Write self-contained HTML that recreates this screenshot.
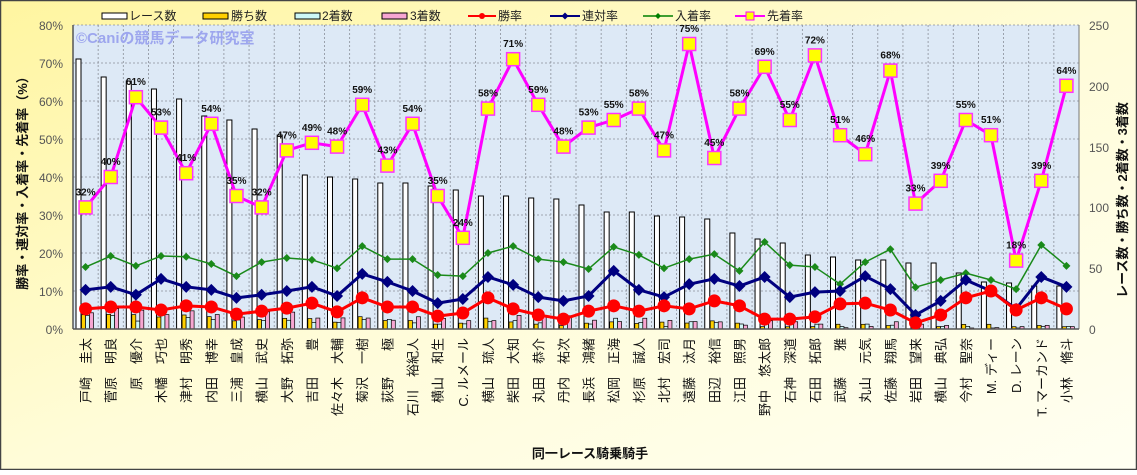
<!DOCTYPE html>
<html><head><meta charset="utf-8">
<style>
html,body{margin:0;padding:0;}
body{width:1137px;height:470px;overflow:hidden;font-family:"Liberation Sans","Noto Sans CJK JP",sans-serif;}
svg text{font-family:"Liberation Sans","Noto Sans CJK JP",sans-serif;}
</style></head>
<body>
<svg id="c" width="1137" height="470" viewBox="0 0 1137 470" xmlns="http://www.w3.org/2000/svg">
<defs>
<linearGradient id="bg" x1="0" y1="0" x2="1" y2="1">
<stop offset="0" stop-color="#fff5a0"/><stop offset="0.5" stop-color="#fffcd8"/><stop offset="1" stop-color="#fffff2"/>
</linearGradient>
</defs>
<rect x="0.5" y="0.5" width="1136" height="469" fill="url(#bg)" stroke="#444" stroke-width="1.5"/>
<rect x="73" y="25" width="1006" height="304" fill="#dde9f6"/>
<g id="grid"></g>
<g id="shapes"></g>
<line x1="73" y1="25" x2="73" y2="329" stroke="#555" stroke-width="1.5"/>
<line x1="1079" y1="25" x2="1079" y2="329" stroke="#777" stroke-width="1"/>
<line x1="73" y1="329" x2="1079" y2="329" stroke="#555" stroke-width="1.5"/>
<text x="76" y="43" font-size="15" font-weight="bold" fill="#9da6ee">©Caniの競馬データ研究室</text>

<g font-size="12" fill="#555" text-anchor="end">
<text x="63" y="30">80%</text><text x="63" y="68">70%</text><text x="63" y="106">60%</text><text x="63" y="144">50%</text><text x="63" y="182">40%</text><text x="63" y="220">30%</text><text x="63" y="258">20%</text><text x="63" y="296">10%</text><text x="63" y="334">0%</text>
</g>
<g font-size="12" fill="#555">
<text x="1089" y="30">250</text><text x="1089" y="91">200</text><text x="1089" y="152">150</text><text x="1089" y="212">100</text><text x="1089" y="273">50</text><text x="1089" y="334">0</text>
</g>
<text transform="translate(27,180) rotate(-90)" font-size="13" font-weight="bold" text-anchor="middle" fill="#111">勝率・連対率・入着率・先着率（%）</text>
<text transform="translate(1127,200) rotate(-90)" font-size="13" font-weight="bold" text-anchor="middle" fill="#111">レース数・勝ち数・2着数・3着数</text>
<text x="590" y="458" font-size="13" font-weight="bold" text-anchor="middle" fill="#111">同一レース騎乗騎手</text>

<g font-size="12" fill="#222">
<rect x="102" y="13" width="25" height="6" fill="#fff" stroke="#000"/><text x="129" y="20">レース数</text>
<rect x="203" y="13" width="25" height="6" fill="#ffd000" stroke="#000"/><text x="231" y="20">勝ち数</text>
<rect x="295" y="13" width="25" height="6" fill="#cdf7f7" stroke="#000"/><text x="322" y="20">2着数</text>
<rect x="382" y="13" width="25" height="6" fill="#f7a6d2" stroke="#000"/><text x="410" y="20">3着数</text>
<line x1="468" y1="16" x2="496" y2="16" stroke="#f00" stroke-width="2"/><circle cx="482" cy="16" r="3" fill="#f00"/><text x="498" y="20">勝率</text>
<line x1="550" y1="16" x2="580" y2="16" stroke="#000080" stroke-width="2"/><path d="M565 12.5L568.5 16L565 19.5L561.5 16Z" fill="#000080"/><text x="582" y="20">連対率</text>
<line x1="643" y1="16" x2="673" y2="16" stroke="#008000" stroke-width="1.5"/><path d="M658 13L661 16L658 19L655 16Z" fill="#008000"/><text x="675" y="20">入着率</text>
<line x1="735" y1="16" x2="765" y2="16" stroke="#f0f" stroke-width="2"/><rect x="746" y="12" width="8" height="8" fill="#ff0" stroke="#f0f"/><text x="767" y="20">先着率</text>
</g>

<g id="top"></g>
<g font-size="10" font-weight="bold" fill="#111" text-anchor="middle">
<text x="85.6" y="195.4">32%</text><text x="110.7" y="165">40%</text><text x="135.9" y="85.2">61%</text><text x="161.0" y="115.6">53%</text><text x="186.2" y="161.2">41%</text><text x="211.3" y="111.8">54%</text><text x="236.5" y="184">35%</text><text x="261.6" y="195.4">32%</text><text x="286.8" y="138.4">47%</text><text x="311.9" y="130.8">49%</text>
<text x="337.1" y="134.6">48%</text><text x="362.2" y="92.8">59%</text><text x="387.4" y="153.6">43%</text><text x="412.5" y="111.8">54%</text><text x="437.7" y="184">35%</text><text x="462.8" y="225.8">24%</text><text x="488.0" y="96.6">58%</text><text x="513.1" y="47.2">71%</text><text x="538.3" y="92.8">59%</text><text x="563.4" y="134.6">48%</text>
<text x="588.6" y="115.6">53%</text><text x="613.7" y="108">55%</text><text x="638.9" y="96.6">58%</text><text x="664.0" y="138.4">47%</text><text x="689.2" y="32">75%</text><text x="714.3" y="146">45%</text><text x="739.5" y="96.6">58%</text><text x="764.6" y="54.8">69%</text><text x="789.8" y="108">55%</text><text x="814.9" y="43.4">72%</text>
<text x="840.1" y="123.2">51%</text><text x="865.2" y="142.2">46%</text><text x="890.4" y="58.6">68%</text><text x="915.5" y="191.6">33%</text><text x="940.7" y="168.8">39%</text><text x="965.8" y="108">55%</text><text x="991.0" y="123.2">51%</text><text x="1016.1" y="248.6">18%</text><text x="1041.3" y="168.8">39%</text><text x="1066.4" y="73.8">64%</text>
</g>

<g font-size="13" fill="#111" text-anchor="end">
<text transform="translate(90.6,338) rotate(-90)">戸崎　圭太</text>
<text transform="translate(115.7,338) rotate(-90)">菅原　明良</text>
<text transform="translate(140.9,338) rotate(-90)">　原　優介</text>
<text transform="translate(166.0,338) rotate(-90)">木幡　巧也</text>
<text transform="translate(191.2,338) rotate(-90)">津村　明秀</text>
<text transform="translate(216.3,338) rotate(-90)">内田　博幸</text>
<text transform="translate(241.5,338) rotate(-90)">三浦　皇成</text>
<text transform="translate(266.6,338) rotate(-90)">横山　武史</text>
<text transform="translate(291.8,338) rotate(-90)">大野　拓弥</text>
<text transform="translate(316.9,338) rotate(-90)">吉田　　豊</text>
<text transform="translate(342.1,338) rotate(-90)">佐々木　大輔</text>
<text transform="translate(367.2,338) rotate(-90)">菊沢　一樹</text>
<text transform="translate(392.4,338) rotate(-90)">荻野　　極</text>
<text transform="translate(417.5,338) rotate(-90)">石川　裕紀人</text>
<text transform="translate(442.7,338) rotate(-90)">横山　和生</text>
<text transform="translate(467.8,338) rotate(-90)">C. ルメール</text>
<text transform="translate(493.0,338) rotate(-90)">横山　琉人</text>
<text transform="translate(518.1,338) rotate(-90)">柴田　大知</text>
<text transform="translate(543.3,338) rotate(-90)">丸田　恭介</text>
<text transform="translate(568.4,338) rotate(-90)">丹内　祐次</text>
<text transform="translate(593.6,338) rotate(-90)">長浜　鴻緒</text>
<text transform="translate(618.7,338) rotate(-90)">松岡　正海</text>
<text transform="translate(643.9,338) rotate(-90)">杉原　誠人</text>
<text transform="translate(669.0,338) rotate(-90)">北村　宏司</text>
<text transform="translate(694.2,338) rotate(-90)">遠藤　汰月</text>
<text transform="translate(719.3,338) rotate(-90)">田辺　裕信</text>
<text transform="translate(744.5,338) rotate(-90)">江田　照男</text>
<text transform="translate(769.6,338) rotate(-90)">野中　悠太郎</text>
<text transform="translate(794.8,338) rotate(-90)">石神　深道</text>
<text transform="translate(819.9,338) rotate(-90)">石田　拓郎</text>
<text transform="translate(845.1,338) rotate(-90)">武藤　　雅</text>
<text transform="translate(870.2,338) rotate(-90)">丸山　元気</text>
<text transform="translate(895.4,338) rotate(-90)">佐藤　翔馬</text>
<text transform="translate(920.5,338) rotate(-90)">岩田　望来</text>
<text transform="translate(945.7,338) rotate(-90)">横山　典弘</text>
<text transform="translate(970.8,338) rotate(-90)">今村　聖奈</text>
<text transform="translate(996.0,338) rotate(-90)">M. ディー</text>
<text transform="translate(1021.1,338) rotate(-90)">D. レーン</text>
<text transform="translate(1046.3,338) rotate(-90)">T. マーカンド</text>
<text transform="translate(1071.4,338) rotate(-90)">小林　脩斗</text>
</g>
</svg>
<script>
(function(){
var NS="http://www.w3.org/2000/svg";
function el(p,t,a){var e=document.createElementNS(NS,t);for(var k in a)e.setAttribute(k,a[k]);p.appendChild(e);return e;}
var grid=document.getElementById('grid'),g=document.getElementById('shapes'),top=document.getElementById('top');
var X0=73,W=25.15,N=40;
for(var i=1;i<N;i++){var x=X0+W*i;el(grid,'line',{x1:x,y1:25,x2:x,y2:329,stroke:'#8a8f99','stroke-width':0.8,'stroke-dasharray':'2,2'});}
for(var j=0;j<8;j++){var y=25+38*j;el(grid,'line',{x1:73,y1:y,x2:1079,y2:y,stroke:'#8a8f99','stroke-width':0.8,'stroke-dasharray':'2,2'});}
var T=[59,77,81,89,99,116,120,129,135,175,177,179,183,183,186,190,196,196,198,199,205,212,212,216,217,219,233,239,243,255,257,260,260,263,263,273,282,283,286,286];
var win=[5.3,5.8,5.8,5,6.1,5.8,3.9,4.7,5.5,6.8,4.5,8.2,5.8,5.8,3.4,4.2,8.2,5.3,3.7,2.6,4.7,6.1,4.7,6.1,5.3,7.4,6.1,2.6,2.6,3.2,6.6,6.8,5,1.6,3.7,8.2,10,5,8.2,5.3];
var ren=[10.3,11.1,9,13.2,11.1,10.3,8.2,9,10,11.1,8.7,14.5,12.4,10,6.8,7.9,13.7,11.6,8.4,7.4,8.7,15.3,10.3,8.4,11.8,13.2,11.3,13.7,8.4,9.7,10,13.9,10.5,3.7,7.4,12.9,10,5.3,13.7,11.1];
var nyu=[16.3,19.2,16.6,19.2,19,17.1,13.9,17.6,18.7,18.2,16,21.8,18.4,18.4,14.2,13.9,20,21.8,18.4,17.6,15.8,21.6,19.5,16,18.4,19.7,15.3,22.9,16.8,16.3,11.8,17.6,21,11,12.9,14.7,12.9,10.5,22.1,16.6];
var sen=[32,40,61,53,41,54,35,32,47,49,48,59,43,54,35,24,58,71,59,48,53,55,58,47,75,45,58,69,55,72,51,46,68,33,39,55,51,18,39,64];
var B=329;
for(var i=0;i<N;i++){
 var x0=X0+W*i,h=B-T[i];
 el(g,'rect',{x:x0+3,y:T[i],width:5,height:h,fill:'#fff',stroke:'#000','stroke-width':1});
 var hw=Math.max(1,h*win[i]/100),h2=Math.max(1,h*(ren[i]-win[i])/100),h3=Math.max(1,h*(nyu[i]-ren[i])/100);
 el(g,'rect',{x:x0+8.5,y:B-hw,width:4,height:hw,fill:'#ffd000',stroke:'#000','stroke-width':0.7});
 el(g,'rect',{x:x0+12.5,y:B-h2,width:4,height:h2,fill:'#cdf7f7',stroke:'#000','stroke-width':0.7});
 el(g,'rect',{x:x0+16.5,y:B-h3,width:4,height:h3,fill:'#f7a6d2',stroke:'#000','stroke-width':0.7});
}
function cx(i){return X0+W*(i+0.5);}
function py(p){return 329-3.8*p;}
function line(arr,col,w){var pts=arr.map(function(v,i){return cx(i)+','+py(v);}).join(' ');el(top,'polyline',{points:pts,fill:'none',stroke:col,'stroke-width':w,'stroke-linejoin':'round'});}
line(nyu,'#1a8a1a',1.5);
nyu.forEach(function(v,i){var x=cx(i),y=py(v);el(top,'path',{d:'M'+x+' '+(y-4)+'L'+(x+4)+' '+y+'L'+x+' '+(y+4)+'L'+(x-4)+' '+y+'Z',fill:'#1a8a1a'});});
line(ren,'#000080',3);
ren.forEach(function(v,i){var x=cx(i),y=py(v);el(top,'path',{d:'M'+x+' '+(y-6)+'L'+(x+6)+' '+y+'L'+x+' '+(y+6)+'L'+(x-6)+' '+y+'Z',fill:'#000080'});});
line(win,'#ff0000',3);
win.forEach(function(v,i){el(top,'circle',{cx:cx(i),cy:py(v),r:6.5,fill:'#ff0000'});});
line(sen,'#ff00ff',3);
sen.forEach(function(v,i){el(top,'rect',{x:cx(i)-6.5,y:py(v)-6.5,width:13,height:13,fill:'#ffff00',stroke:'#ff33ff','stroke-width':1.5});});
})();
</script>
</body></html>
